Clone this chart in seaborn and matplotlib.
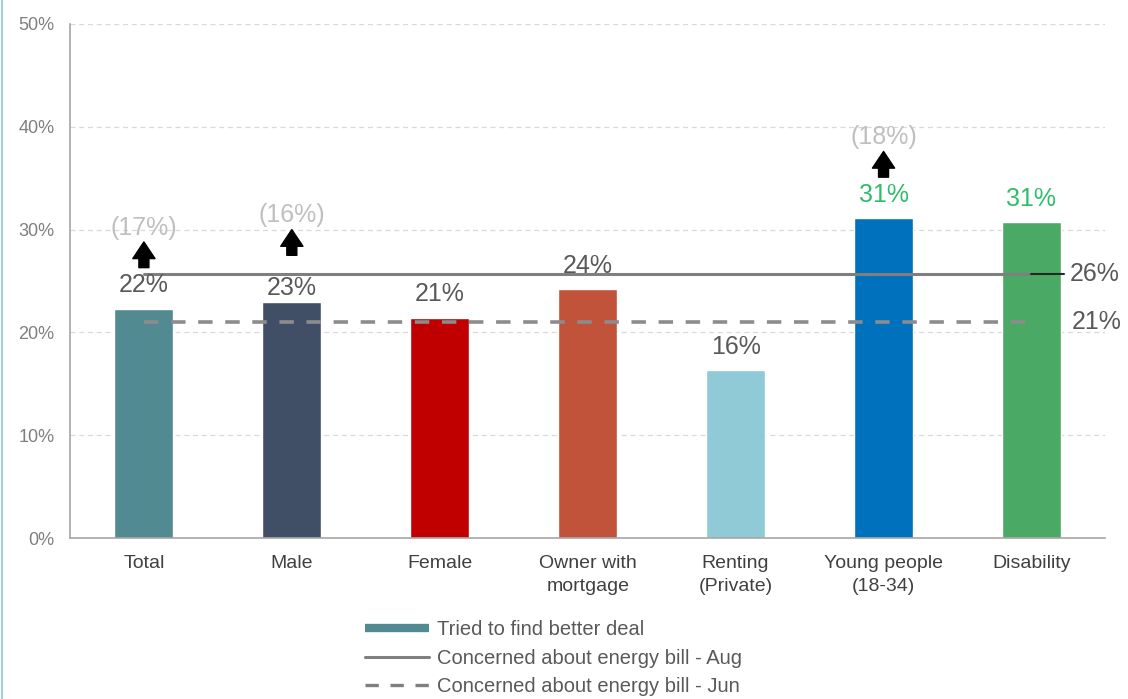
import matplotlib
matplotlib.use("Agg")
import matplotlib.pyplot as plt
from matplotlib.lines import Line2D
from matplotlib.ticker import MultipleLocator, PercentFormatter
import seaborn as sns
import pandas as pd

# ---- data ----
categories = ["Total", "Male", "Female", "Owner with\nmortgage", "Renting\n(Private)",
              "Young people\n(18-34)", "Disability"]
tried_better_deal = [22.3, 23.0, 21.4, 24.2, 16.3, 31.1, 30.7]
bar_colors = ["#528A91", "#414F66", "#C00000", "#C0533A", "#8FCAD6", "#0072BD", "#4AAA65"]
concerned_aug = 25.7
concerned_jun = 21.0
# earlier-wave comparison shown above arrows: (category index, value)
previous_values = {0: 17, 1: 16, 5: 18}
highlight = {5, 6}  # labels drawn in green

sns.set_theme(style="white")
plt.rcParams["font.family"] = ["Liberation Sans", "DejaVu Sans"]

fig = plt.figure(figsize=(11.28, 6.99), dpi=100)
ax = fig.add_axes([0.062, 0.2303, 0.918, 0.7354])

df = pd.DataFrame({"cat": categories, "val": tried_better_deal})
sns.barplot(data=df, x="cat", y="val", hue="cat", palette=bar_colors,
            legend=False, width=0.4, saturation=1, ax=ax, zorder=2)

ax.set_xlim(-0.5, 6.5)
ax.set_ylim(0, 50)
ax.yaxis.set_major_locator(MultipleLocator(10))
ax.yaxis.set_major_formatter(PercentFormatter(decimals=0))
ax.grid(axis="y", color="#D9D9D9", linestyle=(0, (4, 3)), linewidth=0.9, zorder=0)
ax.set_xlabel("")
ax.set_ylabel("")
for s in ["top", "right"]:
    ax.spines[s].set_visible(False)
for s in ["left", "bottom"]:
    ax.spines[s].set_color("#A6A6A6")
    ax.spines[s].set_linewidth(1.2)
ax.tick_params(axis="x", labelsize=14, labelcolor="#404040", length=0, pad=12)
ax.tick_params(axis="y", labelsize=13, labelcolor="#7F7F7F", length=0, pad=11)
for lbl in ax.get_xticklabels():
    lbl.set_linespacing(1.5)

# reference lines
n = len(categories)
ax.plot([0, n - 1], [concerned_aug] * 2, color="#7F7F7F", lw=2.2, zorder=3)
ax.plot([n - 1, n - 0.78], [concerned_aug] * 2, color="#262626", lw=1.5, zorder=3)
ax.plot([0, n - 1], [concerned_jun] * 2, color="#8C8C8C", lw=2.6,
        dashes=(4, 3.5), zorder=3)
ax.text(n - 0.74, concerned_aug, f"{round(concerned_aug)}%", fontsize=18,
        color="#595959", va="center", ha="left", clip_on=False)
ax.text(n - 0.73, concerned_jun, f"{round(concerned_jun)}%", fontsize=18,
        color="#595959", va="center", ha="left", clip_on=False)

# bar value labels
for i, v in enumerate(tried_better_deal):
    off = 10 if i == 1 else 17
    col = "#2EBE6A" if i in highlight else "#595959"
    ax.annotate(f"{round(v)}%", xy=(i, v), xytext=(0, off), textcoords="offset points",
                ha="center", va="center", fontsize=18, color=col, zorder=4)

# arrows with previous values
for i, pv in previous_values.items():
    v = tried_better_deal[i]
    base = v + (4.0 if i != 1 else 4.5)
    ax.annotate("", xy=(i, base + 2.5), xytext=(i, base),
                arrowprops=dict(arrowstyle="simple,head_length=0.6,head_width=0.8,tail_width=0.36",
                                color="black", mutation_scale=20, shrinkA=0, shrinkB=0),
                zorder=4)
    ax.text(i, base + 3.9, f"({pv}%)", ha="center", va="center", fontsize=18,
            color="#BFBFBF", zorder=4)

# legend
handles = [
    Line2D([], [], color=bar_colors[0], lw=6, solid_capstyle="butt"),
    Line2D([], [], color="#7F7F7F", lw=2.2),
    Line2D([], [], color="#7F7F7F", lw=2.4, dashes=(4, 3.5)),
]
labels = ["Tried to find better deal", "Concerned about energy bill - Aug",
          "Concerned about energy bill - Jun"]
leg = fig.legend(handles, labels, loc="upper left", bbox_to_anchor=(0.3236, 0.113),
                 frameon=False, fontsize=14.5, handlelength=3.2, handletextpad=0.35,
                 labelspacing=0.48, borderaxespad=0, borderpad=0)
for t in leg.get_texts():
    t.set_color("#595959")

# thin accent line along the left edge
fig.add_artist(Line2D([0.002, 0.002], [0, 1], color="#A9CCD6", lw=1.5,
                      transform=fig.transFigure))

fig.savefig("out.png", dpi=100)
